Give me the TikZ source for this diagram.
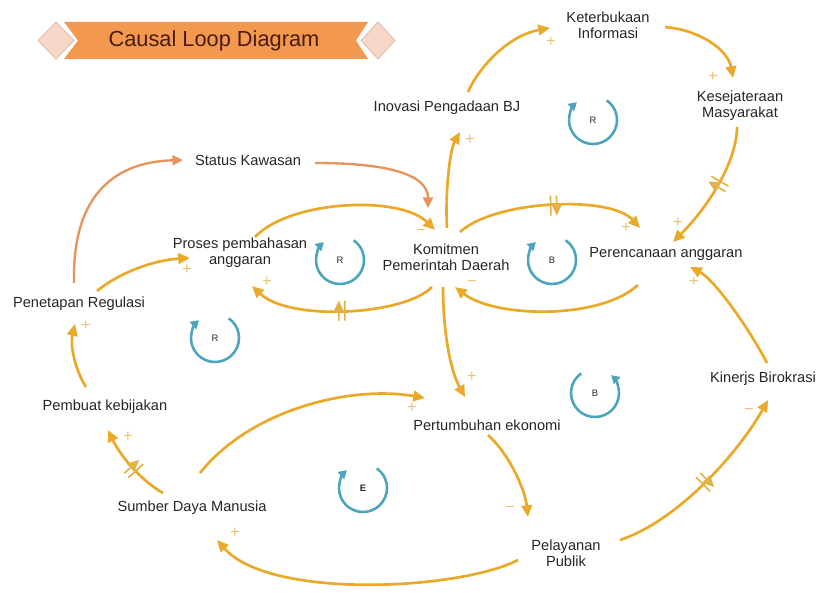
\documentclass[tikz,border=0pt]{standalone}
\usepackage{fontspec}
\setmainfont{Liberation Sans}
\usetikzlibrary{arrows.meta,decorations.markings,calc}
\definecolor{arr}{HTML}{EAA928}
\definecolor{sal}{HTML}{E9935C}
\definecolor{loopc}{HTML}{4DA4BE}
\definecolor{polc}{HTML}{E9C46E}
\definecolor{delc}{HTML}{E2B247}
\definecolor{txt}{HTML}{262626}
\definecolor{bandc}{HTML}{F2994F}
\definecolor{titc}{HTML}{4A1C10}
\definecolor{diac}{HTML}{F6D7C8}
\definecolor{diab}{HTML}{E3BFAE}
\begin{document}
\begin{tikzpicture}[x=0.03cm,y=-0.03cm,
 lab/.style={font=\fontsize{12.5}{14}\selectfont, text=txt, align=center, inner sep=0pt},
 link/.style={draw=arr, line width=2.3pt, -{Triangle[length=10pt,width=9pt]}},
 slink/.style={draw=sal, line width=2pt, -{Triangle[length=9pt,width=8.5pt]}},
 pol/.style={font=\fontsize{14}{14}\selectfont, text=polc, inner sep=0pt},
 delaymark/.style={postaction={decorate, decoration={markings, mark=at position #1 with {\draw[delc, line width=1.4pt] (-3,-10) -- (-3,10) (3,-10) -- (3,10);}}}},
 looptxt/.style={font=\fontsize{8}{8}\selectfont, text=txt, inner sep=0pt},
 loopcw/.pic={\draw[loopc, line width=2.2pt, -{Triangle[length=7pt,width=8pt]}] (-55:24) arc[start angle=-55, end angle=228, radius=24];},
 loopccw/.pic={\draw[loopc, line width=2.2pt, -{Triangle[length=7pt,width=8pt]}] (-125:24) arc[start angle=-125, end angle=-408, radius=24];}
]
\useasboundingbox (0,0) rectangle (820,592);

% title banner
\fill[bandc] (64,22) -- (368,22) -- (356,40.5) -- (368,59) -- (64,59) -- (78,40.5) -- cycle;
\filldraw[fill=diac, draw=diab, line width=0.8pt] (56,22) -- (74,40.5) -- (56,59) -- (38,40.5) -- cycle;
\filldraw[fill=diac, draw=diab, line width=0.8pt] (378,22) -- (395,40.5) -- (378,59) -- (361,40.5) -- cycle;
\node[font=\fontsize{18.6}{20}\selectfont, text=titc, inner sep=0pt] (title) at (214,41) {Causal Loop Diagram};

% variables
\node[lab] (ket) at (608,25) {Keterbukaan\\Informasi};
\node[lab] (kes) at (740,106) {Kesejateraan\\Masyarakat};
\node[lab] (ino) at (447,108) {Inovasi Pengadaan BJ};
\node[lab] (sta) at (248,160) {Status Kawasan};
\node[lab] (pen) at (79,304) {Penetapan Regulasi};
\node[lab] (pro) at (240,253) {Proses pembahasan\\anggaran};
\node[lab] (kom) at (446,257) {Komitmen\\Pemerintah Daerah};
\node[lab] (per) at (666,254) {Perencanaan anggaran};
\node[lab] (kin) at (763,379) {Kinerjs Birokrasi};
\node[lab] (pem) at (105,407) {Pembuat kebijakan};
\node[lab] (pert) at (487,425) {Pertumbuhan ekonomi};
\node[lab] (sdm) at (192,508) {Sumber Daya Manusia};
\node[lab] (pel) at (566,553) {Pelayanan\\Publik};

% links
\draw[link] ($(ino)+(21,-16)$) .. controls (480,65) and (510,35) .. ($(ket)+(-58,3)$);
\draw[link] ($(ket)+(57,2)$) .. controls (700,30) and (728,50) .. ($(kes)+(-7,-28)$);
\draw[link, delaymark=0.45] ($(kes)+(-3,21)$) .. controls (737,160) and (710,205) .. ($(per)+(7,-12)$);
\draw[link] ($(kom)+(1,-29)$) .. controls (445,190) and (450,150) .. ($(ino)+(13,24)$);
\draw[slink] ($(sta)+(67,3)$) .. controls (390,163) and (428,175) .. ($(kom)+(-18,-49)$);
\draw[slink] ($(pen)+(-5,-21)$) .. controls (72,200) and (110,162) .. ($(sta)+(-65,0)$);
\draw[link] ($(pen)+(18,-13)$) .. controls (120,272) and (155,260) .. ($(pro)+(-50,5)$);
\draw[link] ($(pro)+(15,-16)$) .. controls (290,200) and (400,195) .. ($(kom)+(-11,-27)$);
\draw[link, delaymark=0.5] ($(kom)+(-14,30)$) .. controls (405,315) and (290,322) .. ($(pro)+(12,33)$);
\draw[link, delaymark=0.52] ($(kom)+(14,-25)$) .. controls (495,200) and (610,195) .. ($(per)+(-26,-26)$);
\draw[link] ($(per)+(-28,31)$) .. controls (600,320) and (495,318) .. ($(kom)+(9,30)$);
\draw[link] ($(kin)+(4,-16)$) .. controls (750,330) and (715,280) .. ($(per)+(24,13)$);
\draw[link] ($(kom)+(-3,30)$) .. controls (443,330) and (450,370) .. ($(pert)+(-22,-28)$);
\draw[link] ($(sdm)+(8,-35)$) .. controls (250,410) and (350,385) .. ($(pert)+(-62,-27)$);
\draw[link, delaymark=0.45] ($(sdm)+(-29,-15)$) .. controls (140,480) and (120,455) .. ($(pem)+(3,23)$);
\draw[link] ($(pem)+(-19,-20)$) .. controls (75,370) and (70,345) .. ($(pen)+(-4,20)$);
\draw[link] ($(pert)+(1,10)$) .. controls (510,455) and (525,490) .. ($(pel)+(-38,-36)$);
\draw[link, delaymark=0.5] ($(pel)+(54,-13)$) .. controls (680,520) and (740,450) .. ($(kin)+(5,21)$);
\draw[link] ($(pel)+(-48,7)$) .. controls (460,590) and (270,600) .. ($(sdm)+(25,32)$);

% polarities
\node[pol] (s1) at (551,42) {+};
\node[pol] (s2) at (713,77) {+};
\node[pol] (s3) at (678,223) {+};
\node[pol] (s4) at (470,140) {+};
\node[pol] (s5) at (187,270) {+};
\node[pol] (s6) at (421,232) {−};
\node[pol] (s7) at (267,282) {+};
\node[pol] (s8) at (626,228) {+};
\node[pol] (s9) at (472,283) {−};
\node[pol] (s10) at (694,282) {+};
\node[pol] (s11) at (472,377) {+};
\node[pol] (s12) at (412,408) {+};
\node[pol] (s13) at (128,437) {+};
\node[pol] (s14) at (86,326) {+};
\node[pol] (s15) at (510,509) {−};
\node[pol] (s16) at (749,411) {−};
\node[pol] (s17) at (235,533) {+};

% loop markers
\pic at (593,120) {loopcw};
\node[looptxt] (l1) at (593,120) {R};
\pic at (340,260) {loopcw};
\node[looptxt] (l2) at (340,260) {R};
\pic at (215,338) {loopcw};
\node[looptxt] (l3) at (215,338) {R};
\pic at (552,260) {loopcw};
\node[looptxt] (l4) at (552,260) {B};
\pic at (595,393) {loopccw};
\node[looptxt] (l5) at (595,393) {B};
\pic at (363,488) {loopcw};
\node[looptxt, font=\fontsize{8}{8}\bfseries] (l6) at (363,488) {E};
\end{tikzpicture}
\end{document}
